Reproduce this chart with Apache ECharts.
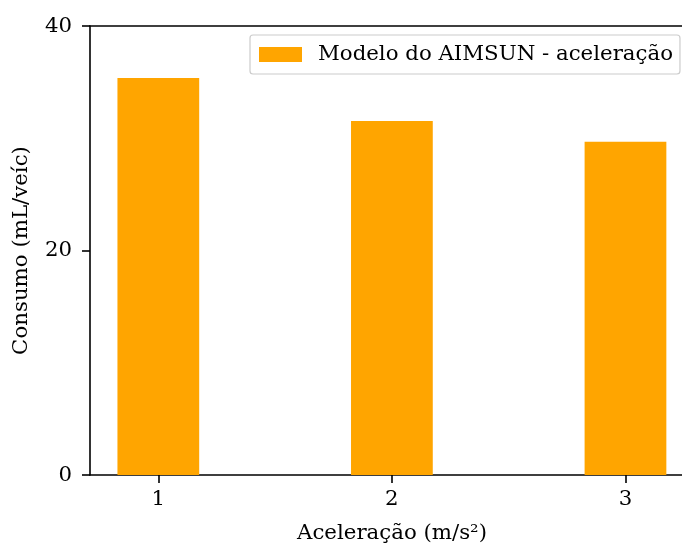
<!DOCTYPE html>
<html><head><meta charset="utf-8">
<script src="https://cdn.jsdelivr.net/npm/echarts@6/dist/echarts.min.js"></script>
<style>html,body{margin:0;padding:0;background:#fff}#c{width:682px;height:545px}</style>
</head><body><div id="c"></div>
<script>
const categories = [1, 2, 3];
const values = [35.37, 31.54, 29.69];
const yTicks = [0, 20, 40];
const seriesName = 'Modelo do AIMSUN - aceleração';
const xName = 'Aceleração (m/s²)';
const yName = 'Consumo (mL/veíc)';

const FONT = 'DejaVu Serif';
const FS = 21.3;
const gridLeft = 90, gridRight = 0, gridTop = 26, gridBottom = 70;
const xMin = 0.7075, xMax = 3.242, barUnits = 0.35;
const gridW = 682 - gridLeft - gridRight;
const barPx = barUnits * gridW / (xMax - xMin);

const chart = echarts.init(document.getElementById('c'), null, {renderer: 'canvas'});
chart.setOption({
  animation: false,
  textStyle: {fontFamily: FONT},
  grid: {left: gridLeft, right: gridRight, top: gridTop, bottom: gridBottom, show: false,
         outerBoundsMode: 'none', containLabel: false},
  legend: {
    show: true, left: 250, top: 35, orient: 'horizontal',
    padding: [9, 7, 9, 9], itemWidth: 43, itemHeight: 15, itemGap: 10,
    borderColor: '#cccccc', borderWidth: 1.2, borderRadius: 3,
    backgroundColor: '#fff',
    textStyle: {fontFamily: FONT, fontSize: FS, color: '#000', padding: [0, 0, 0, 11]},
    icon: 'rect',
    data: [seriesName]
  },
  xAxis: [{
    type: 'value', min: xMin, max: xMax, position: 'bottom',
    name: xName, nameLocation: 'middle', nameGap: 48,
    nameTextStyle: {fontFamily: FONT, fontSize: FS, color: '#000', padding: [0, 0, 0, 12]},
    splitLine: {show: false},
    axisLine: {show: true, lineStyle: {color: '#000', width: 1.6}},
    axisTick: {show: true, length: 8, lineStyle: {color: '#000', width: 1.6}, customValues: categories},
    axisLabel: {fontFamily: FONT, fontSize: FS, color: '#000', margin: 14, customValues: categories}
  }, {
    type: 'value', min: xMin, max: xMax, position: 'top',
    splitLine: {show: false},
    axisLine: {show: true, lineStyle: {color: '#000', width: 1.6}},
    axisTick: {show: false}, axisLabel: {show: false}
  }],
  yAxis: {
    type: 'value', min: 0, max: 40, interval: 20,
    name: yName, nameLocation: 'middle', nameGap: 58, nameRotate: 90,
    nameTextStyle: {fontFamily: FONT, fontSize: FS, color: '#000'},
    splitLine: {show: false},
    axisLine: {show: true, lineStyle: {color: '#000', width: 1.6}},
    axisTick: {show: true, length: 8, lineStyle: {color: '#000', width: 1.6}, customValues: yTicks},
    axisLabel: {fontFamily: FONT, fontSize: FS, color: '#000', margin: 18, customValues: yTicks}
  },
  series: [{
    name: seriesName, type: 'bar', xAxisIndex: 0,
    data: categories.map((c, i) => [c, values[i]]),
    barWidth: barPx,
    itemStyle: {color: '#FFA500'}
  }]
});
</script></body></html>
